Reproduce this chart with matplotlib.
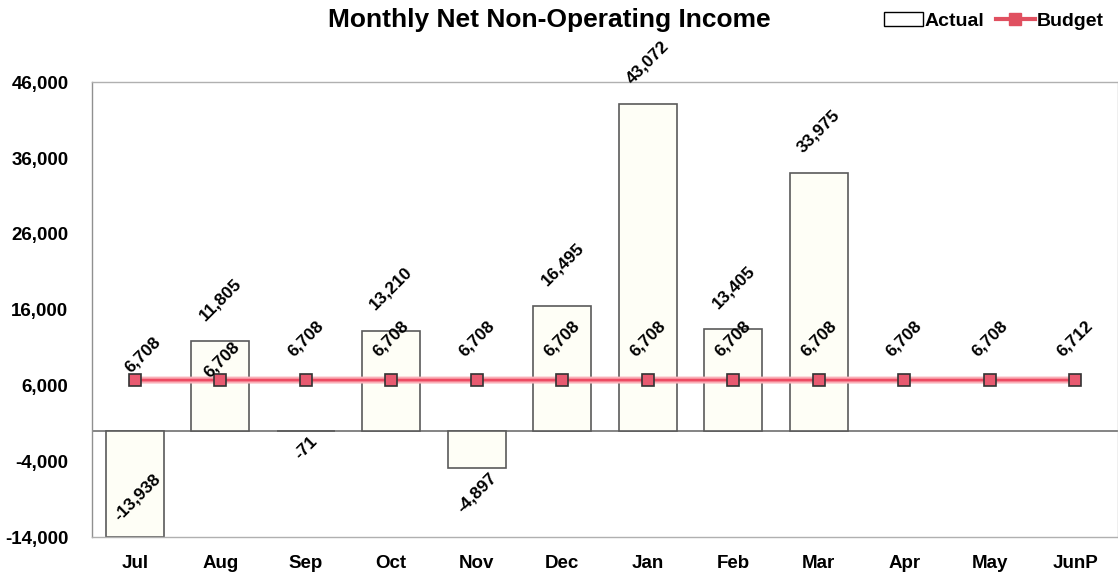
import matplotlib.pyplot as plt
from matplotlib.patches import Patch
from matplotlib.lines import Line2D

plt.rcParams['font.family'] = ['Liberation Sans', 'DejaVu Sans']
plt.rcParams['font.weight'] = 'bold'

months = ['Jul', 'Aug', 'Sep', 'Oct', 'Nov', 'Dec', 'Jan', 'Feb', 'Mar', 'Apr', 'May', 'JunP']
actual = [-13938, 11805, -71, 13210, -4897, 16495, 43072, 13405, 33975, None, None, None]
budget = [6708, 6708, 6708, 6708, 6708, 6708, 6708, 6708, 6708, 6708, 6708, 6712]
yticks = [-14000, -4000, 6000, 16000, 26000, 36000, 46000]

fig = plt.figure(figsize=(11.18, 5.75), dpi=100)
ax = fig.add_axes([0.0823, 0.066, 0.9177, 0.791])

x = list(range(len(months)))
bx = [i for i, v in zip(x, actual) if v is not None]
bv = [v for v in actual if v is not None]
ax.bar(bx, bv, width=0.68, color='#fefef6', edgecolor='#5a5a5a', linewidth=1.2, zorder=2)
ax.axhline(0, color='#707070', linewidth=1.2, zorder=1)

ax.plot(x, budget, color='#f9b0b8', linewidth=5, zorder=3, solid_capstyle='butt')
ax.plot(x, budget, color='#ee4a62', linewidth=2, marker='s', markersize=9,
        markerfacecolor='#e85a70', markeredgecolor='#333333', markeredgewidth=1.2, zorder=4)

lbl = dict(rotation=45, fontsize=12.5, fontweight='bold', textcoords='offset pixels',
           rotation_mode='default', ha='center', zorder=5)

# labels for actual bars
for i, v in zip(bx, bv):
    if v >= 0:
        ax.annotate(f'{v:,}', (i, v), xytext=(0, 18), va='bottom', **lbl)
    elif i == 0:
        ax.annotate(f'{v:,}', (i, yticks[0]), xytext=(2, 40), va='center', **lbl)
    else:
        ax.annotate(f'{v:,}', (i, v), xytext=(0, -2), va='top', **lbl)

# labels for budget
bud_off = {0: (8, 5), 1: (2, 0)}
for i, v in zip(x, budget):
    dx, dy = bud_off.get(i, (0, 21))
    ax.annotate(f'{v:,}', (i, v), xytext=(dx, dy), va='bottom', **lbl)

ax.set_xlim(-0.5, len(months) - 0.5)
ax.set_ylim(yticks[0], yticks[-1])
ax.set_yticks(yticks)
ax.set_yticklabels([f'{t:,}' for t in yticks])
ax.set_xticks(x)
ax.set_xticklabels(months)
ax.tick_params(axis='both', length=0, labelsize=13.5)
ax.tick_params(axis='x', pad=13)
ax.tick_params(axis='y', pad=17)
for s in ax.spines.values():
    s.set_color('#b0b0b0')
    s.set_linewidth(1.0)
ax.spines['left'].set_color('#909090')

fig.text(0.491, 0.966, 'Monthly Net Non-Operating Income', ha='center', va='center',
         fontsize=19, fontweight='bold')

handles = [Patch(facecolor='white', edgecolor='black', linewidth=1.0),
           Line2D([0], [0], color='#e05060', linewidth=3, marker='s', markersize=8,
                  markerfacecolor='#e05060', markeredgecolor='#e05060')]
fig.legend(handles, ['Actual', 'Budget'], loc='center right', bbox_to_anchor=(1.003, 0.963),
           ncol=2, frameon=False, prop={'weight': 'bold', 'size': 14},
           handlelength=2.0, handleheight=0.7, handletextpad=0.1, columnspacing=0.6)

fig.savefig('out.png', dpi=100)
